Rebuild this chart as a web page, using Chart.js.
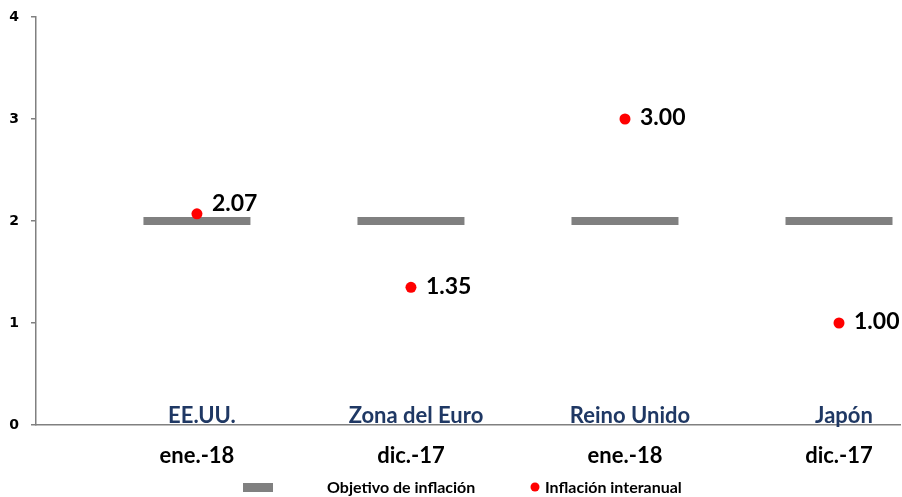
<!DOCTYPE html>
<html lang="es">
<head>
  <meta charset="UTF-8" />
  <title>Inflación vs objetivo</title>
  <script src="https://cdn.jsdelivr.net/npm/chart.js"></script>
  <style>
    html, body { margin: 0; padding: 0; background: #fff; }
    .chart-box { position: relative; width: 902px; height: 497px; }
  </style>
</head>
<body>
  <div class="chart-box">
    <canvas id="chartInflacion"></canvas>
  </div>

  <script>
    // datos
    const paises = ['EE.UU.', 'Zona del Euro', 'Reino Unido', 'Japón'];
    const fechas = ['ene.-18', 'dic.-17', 'ene.-18', 'dic.-17'];
    const posiciones = [1, 2, 3, 4];
    const objetivo = [2, 2, 2, 2];
    const inflacion = [2.07, 1.35, 3.00, 1.00];
    const ticksY = [0, 1, 2, 3, 4];

    const GRIS = '#808080';
    const ROJO = '#ff0000';
    const AZUL = '#1f3864';
    const FUENTE = 'Lato, "Liberation Sans", sans-serif';

    // sin relleno automático para que el área del gráfico quede fija
    function sinPadding(scale) {
      scale.paddingTop = 0;
      scale.paddingBottom = 0;
      scale.paddingLeft = 0;
      scale.paddingRight = 0;
    }

    // etiquetas de valor a la derecha de cada punto rojo
    const etiquetasValor = {
      id: 'etiquetasValor',
      afterDatasetsDraw(chart) {
        const ctx = chart.ctx;
        const meta = chart.getDatasetMeta(1);
        ctx.save();
        ctx.font = 'bold 23px ' + FUENTE;
        ctx.fillStyle = '#000';
        ctx.textAlign = 'left';
        ctx.textBaseline = 'middle';
        meta.data.forEach((pt, i) => {
          const v = inflacion[i];
          // si el punto cae encima de la barra del objetivo, subir el texto
          const cerca = Math.abs(v - objetivo[i]) < 0.2;
          const dy = cerca ? -10 : -1;
          ctx.fillText(v.toFixed(2), pt.x + 15, pt.y + dy);
        });
        ctx.restore();
      }
    };

    // nombres de países justo encima del eje x + leyenda abajo
    const textosExtra = {
      id: 'textosExtra',
      afterDraw(chart) {
        const ctx = chart.ctx;
        const x = chart.scales.x;
        const y0 = chart.scales.y.getPixelForValue(0);
        ctx.save();
        ctx.font = 'bold 22px ' + FUENTE;
        ctx.fillStyle = AZUL;
        ctx.textAlign = 'center';
        ctx.textBaseline = 'alphabetic';
        paises.forEach((p, i) => {
          ctx.fillText(p, x.getPixelForValue(posiciones[i]) + 5, y0 - 2);
        });

        // leyenda
        const ly = chart.height - 9;
        const ds = chart.data.datasets;
        ctx.font = 'bold 16px ' + FUENTE;
        ctx.textAlign = 'left';
        ctx.textBaseline = 'middle';
        ctx.fillStyle = ds[0].borderColor;
        ctx.fillRect(243, ly - 5, 30, 9);
        ctx.fillStyle = '#000';
        ctx.fillText(ds[0].label, 327, ly);
        ctx.fillStyle = ds[1].backgroundColor;
        ctx.beginPath();
        ctx.arc(535, ly - 1, 4.5, 0, Math.PI * 2);
        ctx.fill();
        ctx.fillStyle = '#000';
        ctx.fillText(ds[1].label, 545, ly);
        ctx.restore();
      }
    };

    const ctx = document.getElementById('chartInflacion').getContext('2d');
    new Chart(ctx, {
      type: 'line',
      data: {
        datasets: [
          {
            label: 'Objetivo de inflación',
            data: posiciones.map((p, i) => ({ x: p, y: objetivo[i] })),
            showLine: false,
            pointStyle: 'line',
            pointRadius: 53.5,
            pointHoverRadius: 53.5,
            pointBorderWidth: 8,
            pointHoverBorderWidth: 8,
            borderColor: GRIS,
            backgroundColor: GRIS,
            clip: false,
            order: 1
          },
          {
            label: 'Inflación interanual',
            data: posiciones.map((p, i) => ({ x: p, y: inflacion[i] })),
            showLine: false,
            pointStyle: 'circle',
            pointRadius: 5.5,
            pointHoverRadius: 5.5,
            pointBorderWidth: 0,
            borderColor: ROJO,
            backgroundColor: ROJO,
            order: 0
          }
        ]
      },
      options: {
        responsive: true,
        maintainAspectRatio: false,
        animation: false,
        layout: { autoPadding: false, padding: { top: 17, left: 0, right: 2, bottom: 28 } },
        plugins: {
          legend: { display: false },
          tooltip: { enabled: false }
        },
        scales: {
          x: {
            type: 'linear',
            min: 0.248,
            max: 4.285,
            afterBuildTicks: (scale) => { scale.ticks = posiciones.map(v => ({ value: v })); },
            afterFit: (scale) => { scale.height = 44; sinPadding(scale); },
            grid: { display: false },
            border: { display: true, color: GRIS, width: 1.5 },
            ticks: {
              autoSkip: false,
              maxRotation: 0,
              padding: 10,
              color: '#000',
              font: { family: FUENTE, size: 22, weight: 'bold' },
              callback: (v) => fechas[posiciones.indexOf(v)] || ''
            }
          },
          y: {
            min: 0,
            max: 4,
            afterBuildTicks: (scale) => { scale.ticks = ticksY.map(v => ({ value: v })); },
            afterFit: (scale) => { scale.width = 36; sinPadding(scale); },
            grid: {
              display: true,
              drawOnChartArea: false,
              drawTicks: true,
              tickLength: 5,
              color: GRIS,
              lineWidth: 1.5
            },
            border: { display: true, color: GRIS, width: 1.5 },
            ticks: {
              padding: 12,
              color: '#000',
              font: { family: '"DejaVu Sans", sans-serif', size: 14, weight: 'bold' }
            }
          }
        }
      },
      plugins: [etiquetasValor, textosExtra]
    });
  </script>
</body>
</html>
